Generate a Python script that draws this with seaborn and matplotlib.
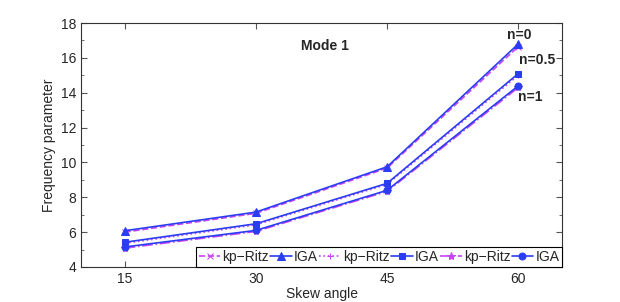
import numpy as np
import pandas as pd
import matplotlib
matplotlib.use("Agg")
import matplotlib.pyplot as plt
import seaborn as sns
from matplotlib.ticker import MultipleLocator

skew = [15, 30, 45, 60]

# IGA results
iga_n0 = [6.08, 7.15, 9.75, 16.80]
iga_n05 = [5.42, 6.48, 8.80, 15.10]
iga_n1 = [5.15, 6.10, 8.40, 14.40]

# kp-Ritz results
ritz_n0 = [6.00, 7.08, 9.68, 16.65]
ritz_n05 = [5.36, 6.42, 8.74, 15.00]
ritz_n1 = [5.08, 6.04, 8.34, 14.30]

BLUE = "#2b3df2"
MAG = "#c545f5"

sns.set_style("ticks")
plt.rcParams["font.family"] = ["Liberation Sans", "DejaVu Sans"]

fig = plt.figure(figsize=(6.2, 3.02), dpi=100)
ax = fig.add_axes([0.1306, 0.1159, 0.7759, 0.8079])

series = [
    (ritz_n0, "kp\u2212Ritz", MAG, "--", "x", 4),
    (iga_n0, "IGA", BLUE, "-", "^", 6),
    (ritz_n05, "kp\u2212Ritz", MAG, ":", "+", 5),
    (iga_n05, "IGA", BLUE, "-", "s", 5),
    (ritz_n1, "kp\u2212Ritz", MAG, "-.", "*", 6),
    (iga_n1, "IGA", BLUE, "-", "o", 5),
]

handles = []
for vals, lab, col, ls, mk, ms in series:
    df = pd.DataFrame({"skew": skew, "freq": vals})
    sns.lineplot(data=df, x="skew", y="freq", ax=ax, color=col, linestyle=ls,
                 marker=mk, markersize=ms, linewidth=1.2, markeredgecolor=col,
                 label=lab, legend=False)
    handles.append(ax.lines[-1])

ax.set_xlim(10, 65)
ax.set_ylim(4, 18)
ax.set_xticks(skew)
ax.set_yticks(np.arange(4, 19, 2))
ax.yaxis.set_minor_locator(MultipleLocator(1))
ax.tick_params(direction="in", which="both", top=True, right=True,
               labelsize=10, length=4, color="#555555")
ax.tick_params(which="minor", length=2)
for s in ax.spines.values():
    s.set_linewidth(0.8)
    s.set_color("#333333")

ax.set_xlabel("Skew angle", fontsize=10, labelpad=1)
ax.set_ylabel("Frequency parameter", fontsize=10, labelpad=3)

ax.text(37.9, 16.7, "Mode 1", fontsize=10, fontweight="bold", ha="center", va="center")
ax.text(60.1, 17.3, "n=0", fontsize=10, fontweight="bold", ha="center", va="center")
ax.text(62.2, 15.9, "n=0.5", fontsize=10, fontweight="bold", ha="center", va="center")
ax.text(61.4, 13.75, "n=1", fontsize=10, fontweight="bold", ha="center", va="center")

leg = ax.legend(handles, [h.get_label() for h in handles], ncol=6, loc="lower right",
                bbox_to_anchor=(1.0, 0.0), fontsize=10, frameon=True, fancybox=False,
                edgecolor="black", framealpha=1, handlelength=1.55, handletextpad=0.15,
                columnspacing=0.1, borderpad=0.2, borderaxespad=0.0)
leg.get_frame().set_linewidth(0.8)

fig.savefig("out.png", dpi=100)
